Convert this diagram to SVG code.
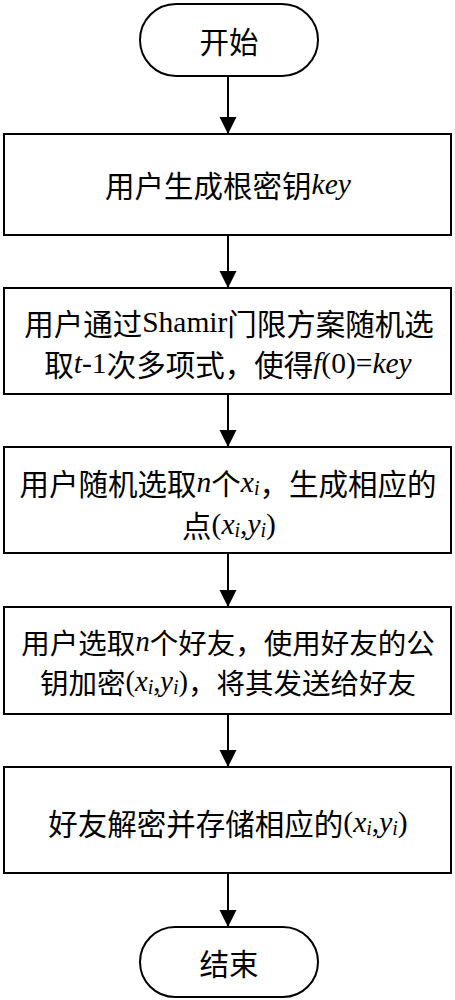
<svg xmlns="http://www.w3.org/2000/svg" width="455" height="1000" viewBox="0 0 455 1000">
<defs>
<marker id="ah" markerUnits="userSpaceOnUse" markerWidth="18" markerHeight="18" viewBox="0 0 18 18" refX="17" refY="8.5" orient="auto">
<path d="M0,0 L17,8.5 L0,17 Z" fill="#000"/>
</marker>
<style>
.b{fill:#fff;stroke:#000;stroke-width:2}
.t{font-family:"Noto Sans CJK SC","Noto Sans",sans-serif;font-size:29.5px;fill:#000;text-anchor:middle;dominant-baseline:central}
.t2{font-size:28.5px}
.r{font-family:"Liberation Serif","Times New Roman",serif}
.i{font-family:"Liberation Serif","Times New Roman",serif;font-style:italic}
.s{font-family:"Liberation Serif","Times New Roman",serif;font-style:italic;font-size:20px}
.c{stroke:#000;stroke-width:2;fill:none;marker-end:url(#ah)}
</style>
</defs>
<g id="connectors">
<line class="c" x1="228" y1="76" x2="228" y2="134"/>
<line class="c" x1="228" y1="235" x2="228" y2="288"/>
<line class="c" x1="228" y1="394" x2="228" y2="447"/>
<line class="c" x1="228" y1="553" x2="228" y2="607"/>
<line class="c" x1="228" y1="714" x2="228" y2="767"/>
<line class="c" x1="228" y1="873" x2="228" y2="927"/>
</g>
<g id="start">
<rect class="b" x="140" y="4" width="178" height="72" rx="36" ry="36"/>
<text class="t" x="229" y="40">开始</text>
</g>
<g id="step1">
<rect class="b" x="4" y="134" width="447" height="101"/>
<text class="t" x="228" y="184">用户生成根密钥<tspan class="i">key</tspan></text>
</g>
<g id="step2">
<rect class="b" x="4" y="288" width="447" height="106"/>
<text class="t" x="229" y="322">用户通过<tspan class="r">Shamir</tspan>门限方案随机选</text>
<text class="t" x="228" y="363">取<tspan class="i">t</tspan><tspan class="r">-1</tspan>次多项式，使得<tspan class="i">f</tspan><tspan class="r">(0)=</tspan><tspan class="i">key</tspan></text>
</g>
<g id="step3">
<rect class="b" x="4" y="447" width="447" height="106"/>
<text class="t" x="228" y="482">用户随机选取<tspan class="i">n</tspan>个<tspan class="i">x</tspan><tspan class="s" dy="6">i</tspan><tspan dy="-6">，生成相应的</tspan></text>
<text class="t" x="229" y="524">点<tspan class="r">(</tspan><tspan class="i">x</tspan><tspan class="s" dy="6">i</tspan><tspan class="r" dy="-6">,</tspan><tspan class="i">y</tspan><tspan class="s" dy="6">i</tspan><tspan class="r" dy="-6">)</tspan></text>
</g>
<g id="step4">
<rect class="b" x="4" y="607" width="447" height="107"/>
<text class="t t2" x="228" y="641">用户选取<tspan class="i">n</tspan>个好友，使用好友的公</text>
<text class="t t2" x="228" y="681">钥加密<tspan class="r">(</tspan><tspan class="i">x</tspan><tspan class="s" dy="6">i</tspan><tspan class="r" dy="-6">,</tspan><tspan class="i">y</tspan><tspan class="s" dy="6">i</tspan><tspan class="r" dy="-6">)</tspan>，将其发送给好友</text>
</g>
<g id="step5">
<rect class="b" x="4" y="767" width="447" height="106"/>
<text class="t" x="228" y="822">好友解密并存储相应的<tspan class="r">(</tspan><tspan class="i">x</tspan><tspan class="s" dy="6">i</tspan><tspan class="r" dy="-6">,</tspan><tspan class="i">y</tspan><tspan class="s" dy="6">i</tspan><tspan class="r" dy="-6">)</tspan></text>
</g>
<g id="end">
<rect class="b" x="140" y="927" width="178" height="70" rx="35" ry="35"/>
<text class="t" x="229" y="962">结束</text>
</g>
</svg>
